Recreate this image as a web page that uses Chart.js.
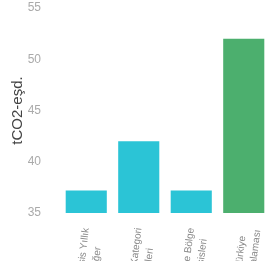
<!DOCTYPE html>
<html>
<head>
<meta charset="utf-8">
<script src="https://cdn.jsdelivr.net/npm/chart.js@4/dist/chart.umd.min.js"></script>
<style>
	html, body { margin: 0; padding: 0; background: #fff; overflow: hidden; }
	#cont { width: 270px; height: 300px; }
</style>
</head>
<body>
<div id="cont"><canvas id="myChart"></canvas></div>
<script>
// dados do grafico
var rotulos = [
	["Bu Tesis Yıllık", "Değer"],
	["Benzeri Kategori", "Tesisleri"],
	["Çevre Bölge", "Tesisleri"],
	["Türkiye", "Ortalaması"]
];
var valores = [37.2, 42, 37.2, 52];
var cores = ["#2bc4d6", "#2bc4d6", "#2bc4d6", "#4caf6e"];
var yTicks = [35, 40, 45, 50, 55];

// centraliza as linhas dos rotulos girados
var centralizaRotulos = {
	id: 'centralizaRotulos',
	beforeDraw: function (chart) {
		var scale = chart.scales.x;
		var items = scale.getLabelItems();
		var ctx = chart.ctx;
		ctx.save();
		items.forEach(function (item) {
			if (item.options.textAlign === 'center') return;
			ctx.font = item.font.string;
			var linhas = [].concat(item.label);
			var w = 0;
			for (var i = 0; i < linhas.length; i++) {
				w = Math.max(w, ctx.measureText(linhas[i]).width);
			}
			var r = item.options.rotation;
			var t = item.options.translation;
			item.options.translation = [t[0] - w / 2 * Math.cos(r), t[1] - w / 2 * Math.sin(r)];
			item.options.textAlign = 'center';
		});
		ctx.restore();
	}
};

var ctx = document.getElementById("myChart").getContext('2d');
var myChart = new Chart(ctx, {
	type: 'bar',
	data: {
		labels: rotulos,
		datasets: [{
			data: valores,
			backgroundColor: cores,
			borderWidth: 0,
			barPercentage: 1,
			categoryPercentage: 0.783
		}]
	},
	options: {
		responsive: true,
		maintainAspectRatio: false,
		animation: false,
		layout: { padding: { top: 8, right: 0, bottom: 0, left: 0 } },
		plugins: {
			legend: { display: false },
			tooltip: { enabled: false }
		},
		scales: {
			x: {
				grid: { display: false },
				border: { display: false },
				ticks: {
					color: '#888',
					font: { family: 'Liberation Sans', size: 10, lineHeight: 1.4 },
					minRotation: 83,
					maxRotation: 83,
					padding: 6
				},
				afterFit: function (scale) {
					scale.height = 87;
					scale.paddingLeft = 0;
					scale.paddingRight = 0;
				}
			},
			y: {
				min: yTicks[0],
				max: yTicks[yTicks.length - 1],
				grid: { display: false },
				border: { display: false },
				afterBuildTicks: function (scale) {
					scale.ticks = yTicks.map(function (v) { return { value: v }; });
				},
				ticks: {
					color: '#aaa',
					font: { family: 'Liberation Sans', size: 12 },
					padding: 11
				},
				title: {
					display: true,
					text: 'tCO2-eşd.',
					color: '#444',
					font: { family: 'Liberation Sans', size: 15 },
					padding: { top: 9, bottom: 0 }
				},
				afterFit: function (scale) {
					scale.width = 60;
					scale.paddingTop = 0;
					scale.paddingBottom = 0;
				}
			}
		}
	},
	plugins: [centralizaRotulos]
});
</script>
</body>
</html>
